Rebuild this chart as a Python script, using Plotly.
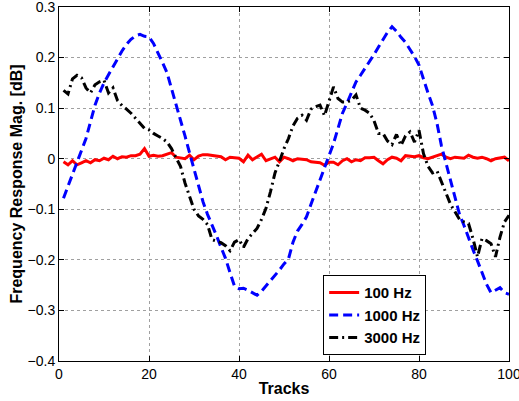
import plotly.graph_objects as go

tracks = list(range(1, 101))

hz100 = [-0.006, -0.012, -0.004, -0.012, -0.008, -0.004, -0.008, -0.002, -0.004, 0.001,
         -0.002, 0.005, 0.000, 0.004, 0.003, 0.006, 0.006, 0.009, 0.020, 0.005,
         0.007, 0.005, 0.006, 0.009, 0.012, 0.003, 0.002, 0.000, 0.007, -0.002,
         0.005, 0.008, 0.008, 0.007, 0.005, 0.004, -0.002, 0.003, 0.002, 0.001,
         -0.006, 0.007, -0.002, 0.004, 0.009, -0.004, 0.000, 0.003, -0.006, 0.003,
         0.000, -0.004, 0.000, -0.001, -0.002, -0.006, -0.007, -0.008, -0.013, -0.007,
         -0.007, -0.012, -0.004, 0.000, -0.006, -0.002, -0.004, 0.002, 0.002, 0.003,
         -0.004, -0.010, -0.002, 0.003, 0.001, -0.004, 0.006, 0.005, 0.004, 0.006,
         0.002, 0.000, 0.003, 0.005, 0.009, 0.003, 0.000, 0.003, 0.002, 0.001,
         0.007, 0.003, 0.001, 0.003, 0.000, -0.004, 0.000, 0.001, 0.003, -0.004]

hz1000 = [-0.078, -0.055, -0.033, -0.010, 0.015, 0.040, 0.073, 0.106, 0.130, 0.150,
          0.166, 0.182, 0.198, 0.213, 0.226, 0.236, 0.243, 0.246, 0.242, 0.241,
          0.228, 0.210, 0.190, 0.170, 0.140, 0.110, 0.078, 0.045, 0.012, -0.020,
          -0.052, -0.085, -0.110, -0.130, -0.152, -0.175, -0.197, -0.225, -0.252, -0.257,
          -0.256, -0.260, -0.265, -0.270, -0.262, -0.252, -0.242, -0.232, -0.220, -0.208,
          -0.198, -0.165, -0.143, -0.130, -0.115, -0.090, -0.066, -0.046, -0.020, 0.005,
          0.030, 0.060, 0.090, 0.110, 0.130, 0.152, 0.165, 0.178, 0.192, 0.206,
          0.221, 0.236, 0.250, 0.261, 0.252, 0.240, 0.230, 0.216, 0.202, 0.185,
          0.155, 0.130, 0.105, 0.070, 0.025, -0.010, -0.040, -0.080, -0.110, -0.132,
          -0.157, -0.180, -0.202, -0.225, -0.248, -0.265, -0.260, -0.255, -0.265, -0.268]

hz3000 = [0.135, 0.128, 0.158, 0.165, 0.160, 0.140, 0.130, 0.146, 0.152, 0.155,
          0.130, 0.140, 0.115, 0.105, 0.098, 0.090, 0.080, 0.070, 0.060, 0.057,
          0.050, 0.045, 0.040, 0.033, 0.020, 0.002, -0.015, -0.048, -0.075, -0.100,
          -0.113, -0.120, -0.130, -0.160, -0.163, -0.166, -0.172, -0.182, -0.165, -0.160,
          -0.175, -0.158, -0.148, -0.138, -0.120, -0.098, -0.065, -0.028, -0.005, 0.020,
          0.040, 0.065, 0.080, 0.086, 0.076, 0.098, 0.103, 0.106, 0.085, 0.112,
          0.142, 0.119, 0.112, 0.112, 0.116, 0.126, 0.100, 0.096, 0.090, 0.075,
          0.050, 0.050, 0.035, 0.028, 0.048, 0.026, 0.045, 0.053, 0.033, 0.056,
          0.010, -0.015, -0.028, -0.024, -0.046, -0.065, -0.090, -0.105, -0.120, -0.125,
          -0.128, -0.158, -0.194, -0.158, -0.162, -0.168, -0.194, -0.155, -0.125, -0.112]

series_names = ["100 Hz", "1000 Hz", "3000 Hz"]
x_ticks = [0, 20, 40, 60, 80, 100]
x_labels = ["0", "20", "40", "60", "80", "100"]
y_ticks = [-0.4, -0.3, -0.2, -0.1, 0.0, 0.1, 0.2, 0.3]
y_labels = ["\u22120.4", "\u22120.3", "\u22120.2", "\u22120.1", "0", "0.1", "0.2", "0.3"]

font_family = "Liberation Sans, Arial, Helvetica, sans-serif"

fig = go.Figure()
fig.add_trace(go.Scatter(x=tracks, y=hz100, mode="lines", name=series_names[0],
                         line=dict(color="#ff0000", width=3)))
fig.add_trace(go.Scatter(x=tracks, y=hz1000, mode="lines", name=series_names[1],
                         line=dict(color="#0000ff", width=3, dash="9px,5px")))
fig.add_trace(go.Scatter(x=tracks, y=hz3000, mode="lines", name=series_names[2],
                         line=dict(color="#000000", width=3, dash="9px,4px,2px,4px")))

axis_common = dict(
    showline=True, linecolor="black", linewidth=1, mirror="ticks",
    ticks="inside", ticklen=5, tickcolor="black", tickwidth=1,
    showgrid=True, gridcolor="#a0a0a0", gridwidth=1, griddash="dot",
    zeroline=False, ticklabeloverflow="allow", automargin=False,
    tickfont=dict(family=font_family, size=14, color="black"),
)

fig.update_xaxes(range=[0, 100], tickmode="array", tickvals=x_ticks, ticktext=x_labels,
                 title=dict(text="<b>Tracks</b>", font=dict(family=font_family, size=16, color="black"),
                            standoff=2),
                 **axis_common)
fig.update_yaxes(range=[-0.4, 0.3], tickmode="array", tickvals=y_ticks, ticktext=y_labels,
                 title=dict(text="<b>Frequency Response Mag. [dB]</b>",
                            font=dict(family=font_family, size=16, color="black"),
                            standoff=0),
                 **axis_common)

fig.update_layout(
    width=519, height=401,
    margin=dict(l=59, r=10, t=7, b=40, autoexpand=False),
    paper_bgcolor="white", plot_bgcolor="white",
    font=dict(family=font_family, color="black"),
    legend=dict(
        x=0.587, y=0.016, xanchor="left", yanchor="bottom",
        bgcolor="white", bordercolor="black", borderwidth=1,
        font=dict(family=font_family, size=15, color="black", weight="bold"),
        tracegroupgap=0, itemwidth=30,
    ),
    showlegend=True,
)

fig.write_html("out.html")
